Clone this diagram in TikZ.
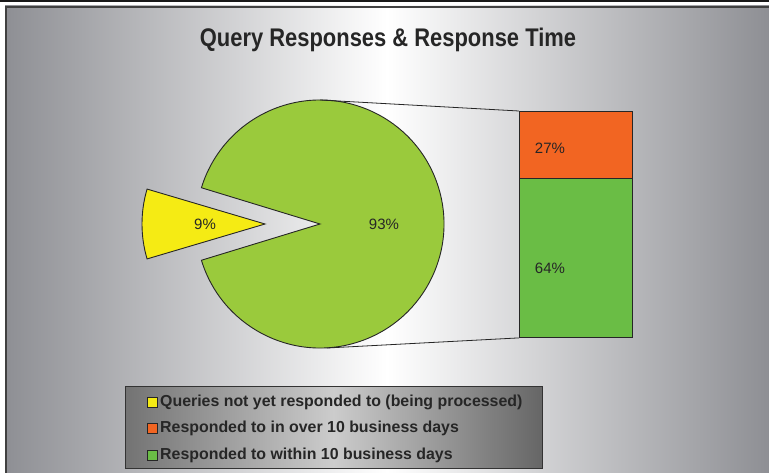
\documentclass[tikz,border=0pt]{standalone}
\usepackage{fontspec}
\setmainfont{Liberation Sans}
\begin{document}
\begin{tikzpicture}[x=1pt,y=-1pt,
  outline/.style={draw=black!85,line width=0.9pt},
  lbl/.style={font=\fontsize{15}{17}\selectfont,text=black!85,inner sep=0pt},
  legtxt/.style={font=\fontsize{15.9}{18}\selectfont\bfseries,text=black!85,anchor=west,inner sep=0pt},
  legsq/.style={draw=black!85,line width=0.7pt,minimum size=10pt,inner sep=0pt}]
\definecolor{pgreen}{HTML}{9ACA3C}
\definecolor{pyellow}{HTML}{F5EB14}
\definecolor{porange}{HTML}{F26522}
\definecolor{bgreen}{HTML}{6ABD45}
\definecolor{edgegray}{HTML}{8E8F94}
\useasboundingbox (0,0) rectangle (769,473);
\fill[white] (0,0) rectangle (769,473);
\fill[black!90] (0,0) rectangle (769,2);
% panel
\shade[left color=edgegray,right color=edgegray,middle color=white] (5,6) rectangle (769,473);
\draw[black!75,line width=2pt] (6,473) -- (6,7) -- (769,7);
% title
\node[font=\fontsize{25.5}{28}\selectfont\bfseries,text=black!85] (title) at (388,40) {\scalebox{0.86}[1]{Query Responses \& Response Time}};
% pie
\coordinate (C) at (320,224);
\fill[pgreen] (C) -- ++(163:124) arc[start angle=163,end angle=-163,radius=124] -- cycle;
\draw[outline] (C) -- ++(163:124) arc[start angle=163,end angle=-163,radius=124] -- cycle;
\coordinate (Y) at (265,224);
\filldraw[outline,fill=pyellow] (Y) -- ++(163.5:123) arc[start angle=163.5,end angle=196.5,radius=123] -- cycle;
\node[lbl] (p9) at (205,224) {9\%};
\node[lbl] (p93) at (384,224) {93\%};
% bar
\node[outline,fill=porange,minimum width=113pt,minimum height=67pt,inner sep=0pt,anchor=north west] (bo) at (519,111) {};
\node[outline,fill=bgreen,minimum width=113pt,minimum height=159pt,inner sep=0pt,anchor=north west] (bg) at (519,178) {};
\node[lbl] (l27) at (550,148) {27\%};
\node[lbl] (l64) at (550,268) {64\%};
% connectors
\coordinate (ptop) at (320,100);
\coordinate (pbot) at (327,348);
\draw[black!85,line width=0.8pt] (ptop) -- (bo.north west);
\draw[black!85,line width=0.8pt] (pbot) -- (bg.south west);
% legend
\shade[left color=black!55,right color=black!60,middle color=black!20] (125,386) rectangle (542,468);
\draw[black!80,line width=1pt] (125,386) rectangle (542,468);
\node[legsq,fill=pyellow] (s1) at (152,402) {};
\node[legtxt] (t1) at (160,402) {Queries not yet responded to (being processed)};
\node[legsq,fill=porange] (s2) at (152,428) {};
\node[legtxt] (t2) at (160,428) {Responded to in over 10 business days};
\node[legsq,fill=bgreen] (s3) at (152,455) {};
\node[legtxt] (t3) at (160,455) {Responded to within 10 business days};
\end{tikzpicture}
\end{document}
